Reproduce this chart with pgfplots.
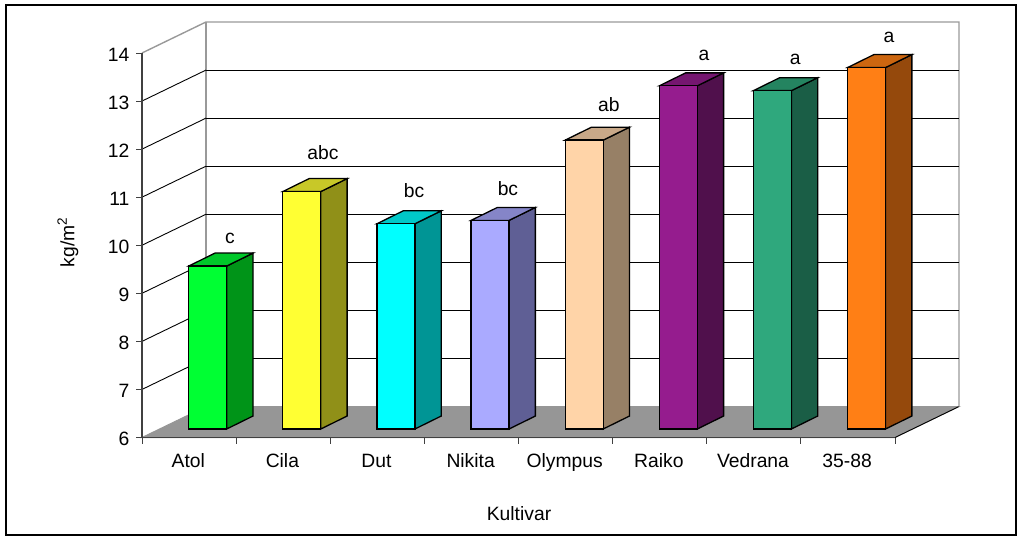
\documentclass[border=0pt]{standalone}
\usepackage{fontspec}
\setmainfont{Liberation Sans}
\usepackage{pgfplots}
\pgfplotsset{compat=1.18}

\definecolor{wall}{HTML}{999999}
\definecolor{grid}{HTML}{606060}
\definecolor{floor}{HTML}{969696}
\definecolor{axisc}{HTML}{404040}

\definecolor{atolF}{HTML}{00FF33}\definecolor{atolS}{HTML}{009418}\definecolor{atolT}{HTML}{00C82A}
\definecolor{cilaF}{HTML}{FFFF33}\definecolor{cilaS}{HTML}{909018}\definecolor{cilaT}{HTML}{C8C828}
\definecolor{dutF}{HTML}{00FFFF}\definecolor{dutS}{HTML}{009595}\definecolor{dutT}{HTML}{00C8C8}
\definecolor{nikF}{HTML}{AAAAFF}\definecolor{nikS}{HTML}{5F5F95}\definecolor{nikT}{HTML}{8585C8}
\definecolor{olyF}{HTML}{FFD4A8}\definecolor{olyS}{HTML}{978066}\definecolor{olyT}{HTML}{C8A888}
\definecolor{raiF}{HTML}{951C8E}\definecolor{raiS}{HTML}{50104C}\definecolor{raiT}{HTML}{751670}
\definecolor{vedF}{HTML}{2FA87D}\definecolor{vedS}{HTML}{1A5E46}\definecolor{vedT}{HTML}{248460}
\definecolor{lineF}{HTML}{FF7F15}\definecolor{lineS}{HTML}{95490C}\definecolor{lineT}{HTML}{CC6610}

% front face is a real bar, side and top are polygons set back by the depth
\pgfplotsset{face/.style={draw=black,line width=1.3pt,xshift=18.6pt,yshift=8.5pt}}
\newcommand{\threedbar}[5]{%
  \pgfmathsetmacro\xa{#1-0.2018}\pgfmathsetmacro\xb{#1+0.2018}%
  \pgfmathsetmacro\xc{\xb+0.28}\pgfmathsetmacro\xd{\xa+0.28}%
  \pgfmathsetmacro\yt{#2+0.27}%
  \edef\faces{%
    \noexpand\addplot[face,fill=#4] coordinates {(\xb,6)(\xb,#2)(\xc,\yt)(\xc,6.27)} -- cycle;
    \noexpand\addplot[face,fill=#5] coordinates {(\xa,#2)(\xb,#2)(\xc,\yt)(\xd,\yt)} -- cycle;
  }\faces
  \addplot[face,ybar,bar shift=0pt,bar width=38pt,fill=#3] coordinates {(#1,#2)};
}

\begin{document}
\fontsize{19.3}{23}\selectfont
\begin{tikzpicture}[x=1pt,y=1pt]
\path[use as bounding box] (0,0) rectangle (1017,536);
\draw[black,line width=1.2pt] (6,1) rectangle (1016,531);
\draw[black,line width=2pt] (6,531) -- (1016,531);
\begin{axis}[
    at={(142pt,98.5pt)},
    anchor=south west,
    scale only axis,
    width=753pt,
    height=384.5pt,
    xmin=0, xmax=8,
    ymin=6, ymax=14,
    clip=false,
    axis on top,
    axis lines*=left,
    axis line style={axisc,line width=1.6pt},
    tick style={axisc,line width=1pt},
    tick align=outside,
    major tick length=6pt,
    xtick={0,...,8},
    x tick label as interval,
    xticklabels={Atol,Cila,Dut,Nikita,Olympus,Raiko,Vedrana,35-88},
    ytick={6,...,14},
    /pgf/number format/assume math mode=true,
    tick label style={font=\fontsize{19.3}{23}\selectfont},
    x tick label style={yshift=-3pt,xshift=-0.8pt,text height=14pt,text depth=4pt},
    y tick label style={yshift=-1.5pt},
    xlabel={Kultivar},
    ylabel={kg/m\textsuperscript{2}},
    label style={font=\fontsize{19.3}{23}\selectfont},
    every axis x label/.style={at={(axis description cs:0.5007,-0.199)},anchor=center},
    every axis y label/.style={at={(axis description cs:-0.0983,0.508)},rotate=90,anchor=center},
]
% floor and walls
\addplot[fill=floor,draw=floor,line width=1pt] coordinates {(0,6)(8,6)(8.68,6.645)(0.68,6.645)} -- cycle;
\addplot[black,line width=0.9pt] coordinates {(8,6)(8.68,6.645)};
\addplot[wall,line width=1.4pt] coordinates {(0,14)(0.68,14.645)(8.68,14.645)(8.68,6.645)};
\addplot[wall,line width=1.4pt] coordinates {(0.68,14.645)(0.68,6.645)};
% gridlines on the back wall
\addplot[grid,line width=1pt,unbounded coords=jump] coordinates {
  (0.68,7.645)(8.68,7.645)(nan,nan)
  (0.68,8.645)(8.68,8.645)(nan,nan)
  (0.68,9.645)(8.68,9.645)(nan,nan)
  (0.68,10.645)(8.68,10.645)(nan,nan)
  (0.68,11.645)(8.68,11.645)(nan,nan)
  (0.68,12.645)(8.68,12.645)(nan,nan)
  (0.68,13.645)(8.68,13.645)
};
% and on the side wall
\addplot[black,line width=0.9pt,unbounded coords=jump] coordinates {
  (0,7)(0.68,7.645)(nan,nan)
  (0,8)(0.68,8.645)(nan,nan)
  (0,9)(0.68,9.645)(nan,nan)
  (0,10)(0.68,10.645)(nan,nan)
  (0,11)(0.68,11.645)(nan,nan)
  (0,12)(0.68,12.645)(nan,nan)
  (0,13)(0.68,13.645)
};
% bars
\threedbar{0.5}{9.39}{atolF}{atolS}{atolT}
\threedbar{1.5}{10.94}{cilaF}{cilaS}{cilaT}
\threedbar{2.5}{10.27}{dutF}{dutS}{dutT}
\threedbar{3.5}{10.34}{nikF}{nikS}{nikT}
\threedbar{4.5}{12.01}{olyF}{olyS}{olyT}
\threedbar{5.5}{13.14}{raiF}{raiS}{raiT}
\threedbar{6.5}{13.04}{vedF}{vedS}{vedT}
\threedbar{7.5}{13.52}{lineF}{lineS}{lineT}
% significance letters
\node at (axis cs:0.935,10.15) {c};
\node at (axis cs:1.923,11.92) {abc};
\node at (axis cs:2.89,11.13) {bc};
\node at (axis cs:3.888,11.17) {bc};
\node at (axis cs:4.96,12.92) {ab};
\node at (axis cs:5.97,13.94) {a};
\node at (axis cs:6.94,13.875) {a};
\node at (axis cs:7.936,14.33) {a};
\end{axis}
\end{tikzpicture}
\end{document}
